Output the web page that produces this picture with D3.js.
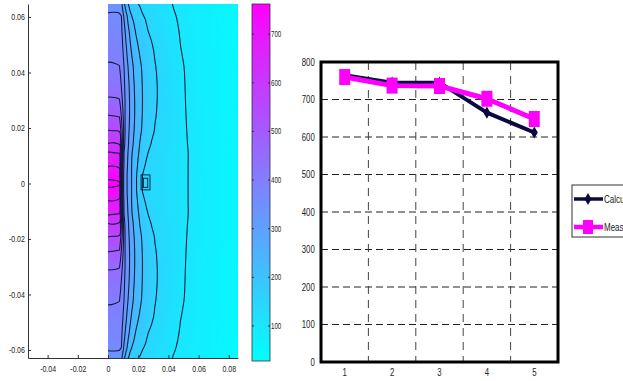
<!DOCTYPE html>
<html><head><meta charset="utf-8">
<script src="https://cdn.jsdelivr.net/npm/d3@7"></script>
<style>
body{margin:0;background:#fff;}
svg text{font-family:"Liberation Sans",Arial,sans-serif;fill:#222;}
</style></head><body>
<svg id="chart" width="623" height="381"></svg>
<script>
// ---------- Left panel: temperature field ----------
// rows of the upper half (top edge down to y = 0); the lower half mirrors them
const fieldRowY = [0.0647, 0.062, 0.0605, 0.055, 0.048, 0.042, 0.036, 0.030, 0.024, 0.019, 0.0145, 0.011, 0.0065, 0.003, 0];
const fieldRowYLower = [-0.003, -0.0065, -0.011, -0.0145, -0.019, -0.024, -0.030, -0.036, -0.042, -0.048, -0.054, -0.0592, -0.0607, -0.0629];
// temperature at the left face (x = 0) and at the right face of the hot slab
const slabEdgeX = 0.0076;
const slabFaceT = [330, 345, 362, 375, 390, 404, 428, 455, 505, 552, 598, 655, 695, 735, 762];
const slabRightT = [328, 343, 360, 372, 387, 401, 424, 452, 500, 547, 592, 648, 688, 728, 755];
// x where each isotherm crosses each row (null: not crossed)
const iso350X = [null, null, 0.0089, 0.0093, 0.0099, 0.0106, 0.0109, 0.0113, 0.0113, 0.0113, 0.0109, 0.0106, 0.0103, 0.0101, 0.0101];
const iso300X = [0.0093, 0.0099, 0.0103, 0.0113, 0.0123, 0.0132, 0.0139, 0.0142, 0.0142, 0.0139, 0.0136, 0.0132, 0.0129, 0.0126, 0.0126];
const iso250X = [0.0109, 0.0119, 0.0126, 0.0139, 0.0152, 0.0166, 0.0172, 0.0175, 0.0175, 0.0172, 0.0166, 0.0159, 0.0156, 0.0156, 0.0156];
const iso200X = [0.0132, 0.0146, 0.0156, 0.0179, 0.0202, 0.0219, 0.0225, 0.0228, 0.0225, 0.0219, 0.0209, 0.0202, 0.0195, 0.0189, 0.0189];
const iso150X = [0.0199, 0.0219, 0.0232, 0.0265, 0.0298, 0.0315, 0.0321, 0.0321, 0.0315, 0.0301, 0.0281, 0.0262, 0.0242, 0.0228, 0.0222];
const iso100X = [0.0424, 0.0437, 0.0444, 0.0464, 0.0483, 0.0497, 0.0503, 0.0507, 0.0513, 0.0520, 0.0526, 0.053, 0.053, 0.053, 0.053];
const farEdgeX = 0.0861;
const farEdgeT = [42, 43, 44, 45, 45, 45, 46, 47, 48, 50, 50, 50, 50, 50, 50];
const gridXs = [0, 0.0076, 0.0082, 0.0088, 0.0094, 0.0100, 0.0106, 0.0113, 0.0120, 0.0128, 0.0137, 0.0147, 0.0158, 0.0170,
                0.0183, 0.0197, 0.0212, 0.0228, 0.0246, 0.0266, 0.0288, 0.0312, 0.034, 0.038, 0.043, 0.048, 0.0525, 0.058, 0.068, 0.0861];
const contourLevels = [100, 150, 200, 250, 300, 350, 400, 450, 500, 550, 600, 650, 700, 750];
const colorRange = [28, 762];
const fieldXTicks = [-0.04, -0.02, 0, 0.02, 0.04, 0.06, 0.08];
const fieldYTicks = [-0.06, -0.04, -0.02, 0, 0.02, 0.04, 0.06];
const colorbarTicks = [100, 200, 300, 400, 500, 600, 700];
const sensorOuter = {x0: 0.0219, x1: 0.0278, y0: -0.0023, y1: 0.0031};
const sensorInner = {x0: 0.0234, x1: 0.0263, y0: -0.0014, y1: 0.0019};

// ---------- Right panel: line chart ----------
const categories = ["1", "2", "3", "4", "5"];
const calculated = [765, 745, 745, 665, 612];
const measured = [760, 737, 736, 702, 648];
const lineYTicks = [0, 100, 200, 300, 400, 500, 600, 700, 800];
const seriesNames = ["Calculated", "Measured"];
const seriesColors = ["#0a0a40", "#ff00ff"];

const svg = d3.select("#chart");
const NARROW = "scale(0.78,1)";

// ===== Left panel =====
const fx = d3.scaleLinear().domain([-0.053, 0.0861]).range([28, 238]);
const fy = d3.scaleLinear().domain([-0.0629, 0.0647]).range([358, 4]);
const color = d3.scaleLinear().domain(colorRange).range(["#00ffff", "#ff00ff"]).interpolate(d3.interpolateRgb).clamp(true);

const isoTable = [[350, iso350X], [300, iso300X], [250, iso250X], [200, iso200X], [150, iso150X], [100, iso100X]];
const topRows = fieldRowY.map((_, j) => {
  const pts = [[0, slabFaceT[j]], [slabEdgeX, slabRightT[j]]];
  isoTable.forEach(([lv, xs]) => { if (xs[j] != null) pts.push([xs[j], lv]); });
  pts.push([farEdgeX, farEdgeT[j]]);
  const rowScale = d3.scaleLinear().domain(pts.map(p => p[0])).range(pts.map(p => p[1]));
  return gridXs.map(x => rowScale(x));
});
const gridRows = topRows.concat(topRows.slice(0, -1).reverse());
const gridYs = fieldRowY.concat(fieldRowYLower);
const nCols = gridXs.length, nRows = gridRows.length;
const values = gridRows.flat();
const gx = d3.scaleLinear().domain(gridXs.map((_, i) => i + 0.5)).range(gridXs.map(v => fx(v)));
const gy = d3.scaleLinear().domain(gridYs.map((_, j) => j + 0.5)).range(gridYs.map(v => fy(v)));
const smoothRing = d3.line().x(p => gx(p[0])).y(p => gy(p[1])).curve(d3.curveCatmullRomClosed.alpha(0.5));
const mpPath = mp => mp.coordinates.map(poly => poly.map(ring => smoothRing(ring.slice(0, -1))).join("")).join("");

const defs = svg.append("defs");
const fLeft = fx(0), fTop = fy(gridYs[0]);
const fW = fx(farEdgeX) - fLeft, fH = fy(gridYs[gridYs.length - 1]) - fTop;
defs.append("clipPath").attr("id", "fieldClip").append("rect")
  .attr("x", fLeft).attr("y", fTop).attr("width", fW).attr("height", fH);

const field = svg.append("g").attr("clip-path", "url(#fieldClip)");
field.append("rect").attr("x", fLeft).attr("y", fTop).attr("width", fW).attr("height", fH)
  .attr("fill", color(colorRange[0]));

const step = 5;
const fillThresholds = d3.range(colorRange[0], colorRange[1], step);
const bands = d3.contours().size([nCols, nRows]).thresholds(fillThresholds)(values);
field.selectAll("path.band").data(bands).join("path")
  .attr("class", "band")
  .attr("d", mpPath)
  .attr("fill-rule", "evenodd")
  .attr("fill", d => color(d.value + step / 2))
  .attr("stroke", d => color(d.value + step / 2))
  .attr("stroke-width", 0.3);

const isolines = d3.contours().size([nCols, nRows]).thresholds(contourLevels)(values);
field.selectAll("path.iso").data(isolines).join("path")
  .attr("class", "iso")
  .attr("d", mpPath)
  .attr("fill", "none")
  .attr("stroke", "#101a38")
  .attr("stroke-width", 1.05)
  .attr("stroke-linejoin", "round");

[sensorOuter, sensorInner].forEach(s => {
  svg.append("rect")
    .attr("x", fx(s.x0)).attr("y", fy(s.y1))
    .attr("width", fx(s.x1) - fx(s.x0)).attr("height", fy(s.y0) - fy(s.y1))
    .attr("fill", "none").attr("stroke", "#101a38").attr("stroke-width", 0.9);
});

// axes of field
const axL = svg.append("g").attr("transform", "translate(28,0)")
  .call(d3.axisLeft(fy).tickValues(fieldYTicks).tickSize(-3).tickSizeOuter(0).tickPadding(4)
    .tickFormat(d => d === 0 ? "0" : d.toFixed(2)));
const axB = svg.append("g").attr("transform", "translate(0,358)")
  .call(d3.axisBottom(fx).tickValues(fieldXTicks).tickSize(-3).tickSizeOuter(0).tickPadding(8)
    .tickFormat(d => d === 0 ? "0" : d.toFixed(2)));
[axL, axB].forEach(a => {
  a.selectAll("path.domain").attr("stroke", "#333").attr("stroke-width", 1);
  a.selectAll(".tick line").attr("stroke", "#333");
  a.selectAll("text").attr("font-size", 9).attr("fill", "#333")
    .attr("font-family", "'Liberation Sans',Arial,sans-serif").attr("transform", NARROW);
});

// colorbar
const cy = d3.scaleLinear().domain(colorRange).range([361, 4]);
const grad = defs.append("linearGradient").attr("id", "cbarGrad")
  .attr("x1", 0).attr("y1", 1).attr("x2", 0).attr("y2", 0);
d3.range(0, 1.0001, 0.1).forEach(o => {
  grad.append("stop").attr("offset", o).attr("stop-color", color(colorRange[0] + o * (colorRange[1] - colorRange[0])));
});
svg.append("rect").attr("x", 252).attr("y", cy(colorRange[1])).attr("width", 18)
  .attr("height", cy(colorRange[0]) - cy(colorRange[1]))
  .attr("fill", "url(#cbarGrad)").attr("stroke", "#333").attr("stroke-width", 0.8);
const cbt = svg.append("g");
colorbarTicks.forEach(t => {
  cbt.append("line").attr("x1", 252).attr("x2", 254).attr("y1", cy(t)).attr("y2", cy(t)).attr("stroke", "#333");
  cbt.append("line").attr("x1", 268).attr("x2", 270).attr("y1", cy(t)).attr("y2", cy(t)).attr("stroke", "#333");
  cbt.append("text").attr("transform", `translate(271,${cy(t)}) scale(0.72,1)`).attr("dy", "0.35em")
    .attr("font-size", 8.5).attr("fill", "#333").text(t);
});

// ===== Right panel =====
const xb = d3.scaleBand().domain(categories).range([321, 558]).padding(0);
const yR = d3.scaleLinear().domain([0, 800]).range([362, 62]);
const cx = c => xb(c) + xb.bandwidth() / 2;

const grid = svg.append("g");
lineYTicks.filter(t => t > 0 && t < 800).forEach(t => {
  grid.append("line").attr("x1", 321).attr("x2", 558).attr("y1", yR(t)).attr("y2", yR(t))
    .attr("stroke", "#222").attr("stroke-width", 1).attr("stroke-dasharray", "7,4");
});
categories.slice(1).forEach(c => {
  grid.append("line").attr("x1", xb(c)).attr("x2", xb(c)).attr("y1", 62).attr("y2", 362)
    .attr("stroke", "#444").attr("stroke-width", 1).attr("stroke-dasharray", "8,6");
});
svg.append("rect").attr("x", 321).attr("y", 62).attr("width", 237).attr("height", 300)
  .attr("fill", "none").attr("stroke", "#000").attr("stroke-width", 3);

const yAx = svg.append("g").attr("transform", "translate(321,0)")
  .call(d3.axisLeft(yR).tickValues(lineYTicks).tickSize(0).tickPadding(8));
yAx.select("path.domain").remove();
yAx.selectAll("text").attr("font-size", 10).attr("fill", "#222")
  .attr("font-family", "'Liberation Sans',Arial,sans-serif").attr("transform", NARROW);
const xAx = svg.append("g").attr("transform", "translate(0,362)")
  .call(d3.axisBottom(xb).tickSize(0).tickPadding(7));
xAx.select("path.domain").remove();
xAx.selectAll("text").attr("font-size", 10).attr("fill", "#222")
  .attr("font-family", "'Liberation Sans',Arial,sans-serif").attr("transform", NARROW);

const line = d3.line().x(d => cx(d.c)).y(d => yR(d.v));
const calcData = categories.map((c, i) => ({c, v: calculated[i]}));
const measData = categories.map((c, i) => ({c, v: measured[i]}));
const diamond = d3.symbol().type(d3.symbolDiamond).size(42);

svg.append("path").datum(calcData).attr("d", line).attr("fill", "none")
  .attr("stroke", seriesColors[0]).attr("stroke-width", 4).attr("stroke-linejoin", "round");
svg.selectAll("path.dia").data(calcData).join("path").attr("class", "dia")
  .attr("d", diamond).attr("transform", d => `translate(${cx(d.c)},${yR(d.v)})`)
  .attr("fill", seriesColors[0]);
svg.append("path").datum(measData).attr("d", line).attr("fill", "none")
  .attr("stroke", seriesColors[1]).attr("stroke-width", 5).attr("stroke-linejoin", "round");
svg.selectAll("rect.sq").data(measData).join("rect").attr("class", "sq")
  .attr("x", d => cx(d.c) - 5.5).attr("y", d => yR(d.v) - 8)
  .attr("width", 11).attr("height", 16).attr("fill", seriesColors[1]);

// legend (runs off the right edge, as in the reference)
const lg = svg.append("g");
lg.append("rect").attr("x", 572).attr("y", 185).attr("width", 80).attr("height", 52)
  .attr("fill", "#fff").attr("stroke", "#333").attr("stroke-width", 1);
seriesNames.forEach((name, i) => {
  const y = 199 + i * 28;
  lg.append("line").attr("x1", 574).attr("x2", 603).attr("y1", y).attr("y2", y)
    .attr("stroke", seriesColors[i]).attr("stroke-width", i === 0 ? 3.5 : 4.5);
  if (i === 0) {
    lg.append("path").attr("d", diamond).attr("transform", `translate(588,${y})`).attr("fill", seriesColors[0]);
  } else {
    lg.append("rect").attr("x", 583).attr("y", y - 7).attr("width", 10).attr("height", 14).attr("fill", seriesColors[1]);
  }
  lg.append("text").attr("transform", `translate(604,${y}) scale(0.8,1)`).attr("dy", "0.35em")
    .attr("font-size", 10).text(name);
});
</script>
</body></html>
